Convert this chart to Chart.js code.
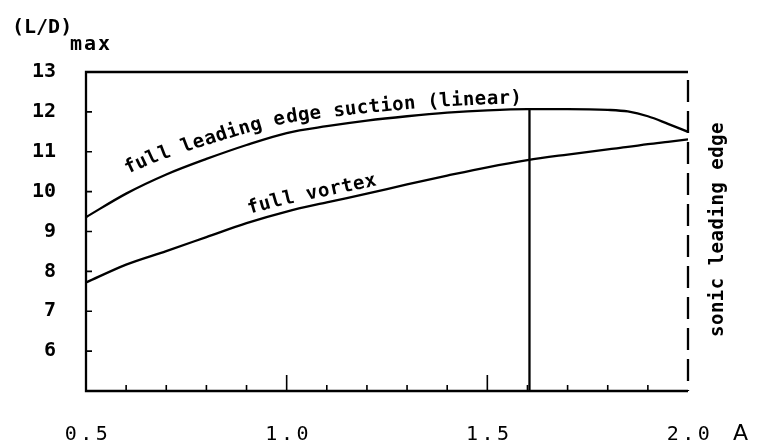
<!DOCTYPE html>
<html>
<head>
<meta charset="utf-8">
<script src="https://cdn.jsdelivr.net/npm/chart.js@4/dist/chart.umd.min.js"></script>
<style>
  html, body { margin: 0; padding: 0; background: #fff; }
</style>
</head>
<body>
<canvas id="Chart" width="758" height="442"></canvas>
<script>
// Aspect ratio stations and (L/D)max for the two limits
var aspectRatio = [0.5, 0.6, 0.7, 0.8, 0.9, 1.0, 1.1, 1.2, 1.3, 1.4, 1.5, 1.6, 1.7, 1.8, 1.85, 1.9, 1.95, 2.0];
var suctionLD   = [9.36, 9.95, 10.43, 10.82, 11.17, 11.47, 11.64, 11.78, 11.89, 11.98, 12.04, 12.07, 12.07, 12.05, 12.01, 11.89, 11.70, 11.50];
var vortexLD    = [7.72, 8.17, 8.51, 8.86, 9.21, 9.50, 9.73, 9.95, 10.18, 10.40, 10.61, 10.79, 10.93, 11.06, 11.12, 11.19, 11.25, 11.31];

// vertical marker from the axis up to the suction curve
var markerA  = [1.605, 1.605];
var markerLD = [5, 12.07];

var xTicks = [0.5, 1.0, 1.5, 2.0];
var yTicks = [6, 7, 8, 9, 10, 11, 12, 13];

var FONT = '"DejaVu Sans Mono", monospace';

function pairs(xs, ys) {
    return xs.map(function (v, i) { return { x: v, y: ys[i] }; });
}

// y pixel on a dataset's polyline at a given x pixel
function curveY(pts, px) {
    for (var i = 0; i < pts.length - 1; i++) {
        if (px <= pts[i + 1].x) {
            var t = (px - pts[i].x) / (pts[i + 1].x - pts[i].x);
            return pts[i].y + t * (pts[i + 1].y - pts[i].y);
        }
    }
    return pts[pts.length - 1].y;
}

// writes text letter by letter riding above a curve
function textOnCurve(ctx, pts, text, x0, d0, d1, spacing) {
    var widths = text.split('').map(function (c) { return ctx.measureText(c).width + spacing; });
    var total = widths.reduce(function (a, b) { return a + b; }, 0);
    var x = x0, s = 0;
    for (var i = 0; i < text.length; i++) {
        var yA = curveY(pts, x), yB = curveY(pts, x + widths[i]);
        var ang = Math.atan2(yB - yA, widths[i]);
        var t = s / total;
        var d = d1 + (d0 - d1) * (1 - t) * (1 - t);
        ctx.save();
        ctx.translate(x + d * Math.sin(ang), yA - d * Math.cos(ang));
        ctx.rotate(ang);
        ctx.fillText(text[i], 0, 0);
        ctx.restore();
        x += widths[i] * Math.cos(ang);
        s += widths[i];
    }
}

var decorations = {
    id: 'decorations',
    afterDatasetsDraw: function (chart) {
        var ctx = chart.ctx, a = chart.chartArea;
        var xs = chart.scales.x, ys = chart.scales.y;
        ctx.save();
        ctx.strokeStyle = '#000';
        ctx.fillStyle = '#000';

        // frame: solid left, bottom and top
        ctx.lineWidth = 2.3;
        ctx.beginPath();
        ctx.moveTo(a.right, a.top);
        ctx.lineTo(a.left, a.top);
        ctx.lineTo(a.left, a.bottom);
        ctx.lineTo(a.right, a.bottom);
        ctx.stroke();

        // dashed right edge
        ctx.setLineDash([22, 9]);
        ctx.lineDashOffset = 23;
        ctx.beginPath();
        ctx.moveTo(a.right, a.top);
        ctx.lineTo(a.right, a.bottom);
        ctx.stroke();
        ctx.setLineDash([]);

        // inward tick marks
        ctx.lineWidth = 1.6;
        ctx.beginPath();
        yTicks.forEach(function (v) {
            if (v >= 13) return;
            var py = ys.getPixelForValue(v);
            ctx.moveTo(a.left, py);
            ctx.lineTo(a.left + 6, py);
        });
        for (var i = 6; i < 20; i++) {
            var px = xs.getPixelForValue(i / 10);
            var len = (i % 5 === 0) ? 16 : 6;
            ctx.moveTo(px, a.bottom);
            ctx.lineTo(px, a.bottom - len);
        }
        ctx.stroke();

        // x tick labels
        ctx.font = '20px ' + FONT;
        ctx.letterSpacing = '3.5px';
        ctx.textAlign = 'center';
        ctx.textBaseline = 'alphabetic';
        xTicks.forEach(function (v) {
            ctx.fillText(v.toFixed(1), xs.getPixelForValue(v) + 2, a.bottom + 49);
        });
        ctx.letterSpacing = '0px';

        // axis names
        ctx.textAlign = 'left';
        ctx.font = '22px "DejaVu Sans", sans-serif';
        ctx.fillText('A', a.right + 45, a.bottom + 49);
        ctx.font = 'bold 20px ' + FONT;
        ctx.fillText('(L/D)', 12, 33);
        ctx.letterSpacing = '2px';
        ctx.fillText('max', 70, 50);
        ctx.letterSpacing = '0px';

        // curve captions
        ctx.font = 'bold 19px ' + FONT;
        var up = chart.getDatasetMeta(0).data;
        var low = chart.getDatasetMeta(1).data;
        textOnCurve(ctx, up, 'full leading edge suction (linear)', xs.getPixelForValue(0.622), 17, 6, 0.3);
        textOnCurve(ctx, low, 'full vortex', xs.getPixelForValue(0.912), 8, 6, 0.5);

        // sonic leading edge caption along the dashed edge
        ctx.save();
        ctx.translate(a.right + 35, (a.top + a.bottom) / 2 - 2);
        ctx.rotate(-Math.PI / 2);
        ctx.textAlign = 'center';
        ctx.letterSpacing = '0.5px';
        ctx.fillText('sonic leading edge', 0, 0);
        ctx.restore();

        ctx.restore();
    }
};

var lineStyle = {
    borderColor: '#000',
    borderWidth: 2.3,
    pointRadius: 0,
    fill: false
};

var config = {
    type: 'line',
    data: {
        datasets: [
            Object.assign({ label: 'full leading edge suction (linear)', data: pairs(aspectRatio, suctionLD), cubicInterpolationMode: 'monotone' }, lineStyle),
            Object.assign({ label: 'full vortex', data: pairs(aspectRatio, vortexLD), cubicInterpolationMode: 'monotone' }, lineStyle),
            Object.assign({ label: 'marker', data: pairs(markerA, markerLD) }, lineStyle)
        ]
    },
    options: {
        responsive: false,
        animation: false,
        events: [],
        layout: { padding: { left: 30, right: 70, top: 72, bottom: 51 } },
        plugins: {
            legend: { display: false },
            tooltip: { enabled: false }
        },
        scales: {
            x: {
                type: 'linear',
                min: 0.5,
                max: 2.0,
                grid: { display: false, drawTicks: false },
                border: { display: false },
                ticks: { display: false },
                afterFit: function (s) { s.height = 0; }
            },
            y: {
                type: 'linear',
                min: 5,
                max: 13,
                afterBuildTicks: function (s) { s.ticks = yTicks.map(function (v) { return { value: v }; }); },
                grid: { display: false, drawTicks: false },
                border: { display: false },
                ticks: {
                    color: '#000',
                    padding: 30,
                    font: { family: FONT, size: 20, weight: 'bold' }
                },
                afterFit: function (s) { s.width = 56; }
            }
        }
    },
    plugins: [decorations]
};

var ctx = document.getElementById('Chart').getContext('2d');
var myChart = new Chart(ctx, config);
</script>
</body>
</html>
